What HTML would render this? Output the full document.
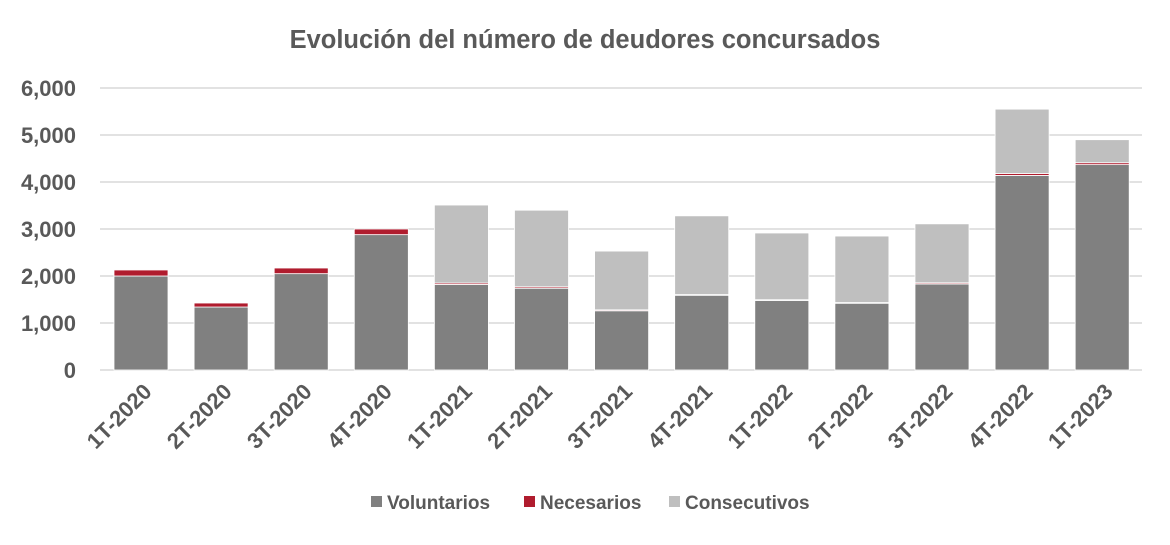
<!DOCTYPE html>
<html><head><meta charset="utf-8"><style>
body{margin:0;background:#fff;}
svg text{font-family:"Liberation Sans",sans-serif;font-weight:bold;fill:#595959;}
</style></head><body>
<svg width="1170" height="540" xmlns="http://www.w3.org/2000/svg">
<text x="585" y="48" text-anchor="middle" font-size="25.5">Evolución del número de deudores concursados</text>
<g stroke="#d9d9d9" stroke-width="1.5">
<line x1="100" x2="1142" y1="88" y2="88"/><line x1="100" x2="1142" y1="135" y2="135"/>
<line x1="100" x2="1142" y1="182" y2="182"/><line x1="100" x2="1142" y1="229" y2="229"/>
<line x1="100" x2="1142" y1="276" y2="276"/><line x1="100" x2="1142" y1="323" y2="323"/>
<line x1="100" x2="1142" y1="370" y2="370"/>
</g>
<g font-size="22" text-anchor="end">
<text x="76" y="96">6,000</text><text x="76" y="143">5,000</text><text x="76" y="190">4,000</text>
<text x="76" y="237">3,000</text><text x="76" y="284">2,000</text><text x="76" y="331">1,000</text>
<text x="76" y="378">0</text>
</g>
<g id="bars" stroke="#fff" stroke-width="0.8"></g>
<g id="labels" font-size="22" text-anchor="end"></g>
<g font-size="19">
<rect x="371" y="496" width="11" height="11" fill="#808080"/><text x="387" y="509">Voluntarios</text>
<rect x="524" y="496" width="11" height="11" fill="#b01c2e"/><text x="540" y="509">Necesarios</text>
<rect x="669" y="496" width="11" height="11" fill="#bfbfbf"/><text x="685" y="509">Consecutivos</text>
</g>
<script>
var d=[["1T-2020",2000,128,0],["2T-2020",1340,85,0],["3T-2020",2050,120,0],["4T-2020",2880,120,0],
["1T-2021",1820,30,1660],["2T-2021",1740,30,1630],["3T-2021",1260,20,1250],["4T-2021",1590,15,1675],
["1T-2022",1480,15,1420],["2T-2022",1420,15,1415],["3T-2022",1830,25,1255],["4T-2022",4140,40,1370],
["1T-2023",4370,40,490]];
var ns="http://www.w3.org/2000/svg",b=document.getElementById("bars"),l=document.getElementById("labels");
d.forEach(function(r,i){var cx=141+80.1*i,y=370,cols=["#808080","#b01c2e","#bfbfbf"];
for(var k=1;k<4;k++){var h=r[k]*0.047;if(h<=0)continue;y-=h;var e=document.createElementNS(ns,"rect");
e.setAttribute("x",cx-27);e.setAttribute("y",y);e.setAttribute("width",54);e.setAttribute("height",h);e.setAttribute("fill",cols[k-1]);b.appendChild(e);}
var t=document.createElementNS(ns,"text");t.setAttribute("transform","translate("+(cx+12)+",393) rotate(-45)");t.textContent=r[0];l.appendChild(t);});
</script>
</svg>
</body></html>
